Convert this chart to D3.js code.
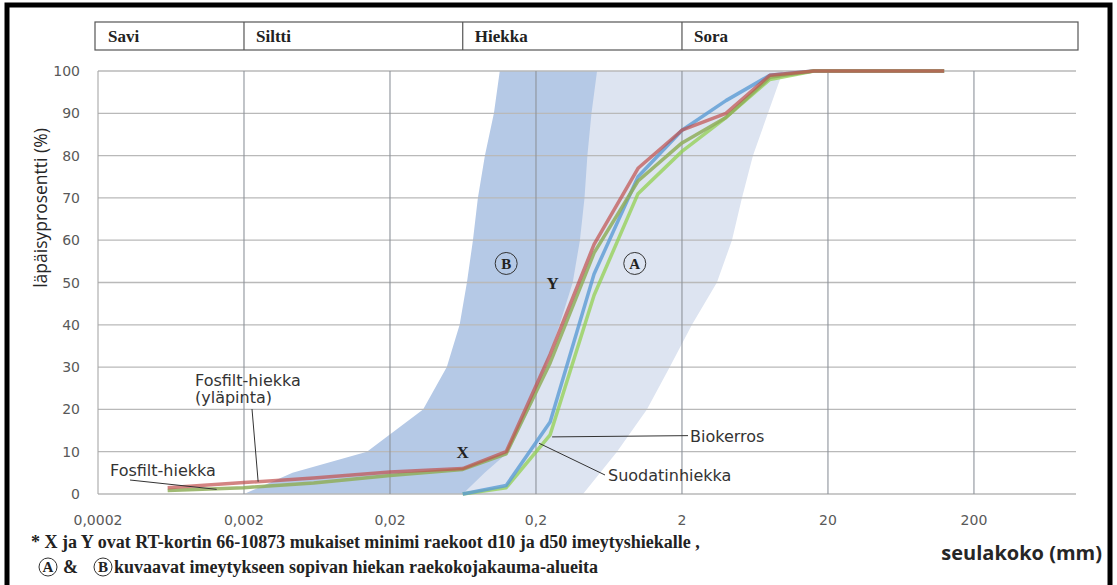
<!DOCTYPE html>
<html><head><meta charset="utf-8">
<script src="https://cdn.jsdelivr.net/npm/d3@7"></script>
<style>body{margin:0;background:#fff}svg{display:block}</style>
</head><body><svg id="c" width="1117" height="585"></svg>
<script>
// ---- data ----
const sizes = [0.0006, 0.002, 0.006, 0.02, 0.063, 0.125, 0.25, 0.5, 1, 2, 4, 8, 16, 32, 64, 125];
const fosfiltYlapinta = [1.5, 2.7, 3.8, 5.2, 6, 10, 33, 59, 77, 86, 90, 99, 100, 100, 100, 100];
const fosfiltHiekka   = [0.8, 1.5, 2.6, 4.4, 5.8, 9.5, 31, 57, 74, 83, 89, 98.5, 100, 100, 100, 100];
const suodatinhiekka  = [null, null, null, null, 0, 2, 17, 52, 75, 86, 93, 99, 100, 100, 100, 100];
const biokerros       = [null, null, null, null, 0, 1.5, 14, 47, 71, 81, 89, 98, 100, 100, 100, 100];

const yTicks = [0, 10, 20, 30, 40, 50, 60, 70, 80, 90, 100];
const xTicks = [0.0002, 0.002, 0.02, 0.2, 2, 20, 200];
const xTickLabels = ["0,0002", "0,002", "0,02", "0,2", "2", "20", "200"];

const zoneNames = ["Savi", "Siltti", "Hiekka", "Sora"];
const zoneBounds = [0.0002, 0.002, 0.063, 2, 1000];

// envelope regions (percent passing -> grain size)
const regionAPct   = [0, 10, 20, 30, 40, 50, 60, 70, 80, 90, 100];
const regionALeft  = [0.04, 0.05, 0.06, 0.075, 0.1, 0.13, 0.16, 0.19, 0.22, 0.26, 0.3];
const regionARight = [0.42, 0.718, 1.15, 1.65, 2.34, 3.47, 4.4, 5.15, 6.13, 7.76, 9.84];
const regionBPct   = [0, 5, 10, 20, 30, 40, 50, 60, 70, 80, 90, 100];
const regionBLeft  = [0.002, 0.0043, 0.0139, 0.0337, 0.049, 0.060, 0.0673, 0.074, 0.080, 0.0894, 0.103, 0.113];
const regionBRight = [0.063, 0.089, 0.13, 0.18, 0.23, 0.29, 0.357, 0.40, 0.43, 0.45, 0.48, 0.524];

// ---- drawing ----
const svg = d3.select("#c");
const x = d3.scaleLog().domain([0.0002, 1000]).range([98, 1076]);
const y = d3.scaleLinear().domain([0, 100]).range([494, 71]);

// frame
svg.append("rect").attr("x", 7).attr("y", 5).attr("width", 1103).attr("height", 700)
  .attr("fill", "none").attr("stroke", "#000").attr("stroke-width", 5);

// regions
function regionPath(pct, left, right) {
  const pts = left.map((s, i) => [s, pct[i]]).concat(right.map((s, i) => [s, pct[i]]).reverse());
  return d3.line().x(d => x(d[0])).y(d => y(d[1])).curve(d3.curveLinearClosed)(pts);
}
svg.append("path").attr("d", regionPath(regionAPct, regionALeft, regionARight)).attr("fill", "#dde4f1");
svg.append("path").attr("d", regionPath(regionBPct, regionBLeft, regionBRight)).attr("fill", "#b5c9e6");

// grid
const g = svg.append("g");
g.selectAll("line.h").data(yTicks).join("line")
  .attr("x1", x(0.0002)).attr("x2", x(1000)).attr("y1", d => y(d)).attr("y2", d => y(d))
  .attr("stroke", "#b9b9b9").attr("stroke-width", 1.3);
g.selectAll("line.v").data(xTicks).join("line")
  .attr("x1", d => x(d)).attr("x2", d => x(d)).attr("y1", y(0)).attr("y2", y(100))
  .attr("stroke", d => d === 0.0002 ? "#a8a8a8" : "#8e939b").attr("stroke-width", 1.1);

// axes labels
svg.selectAll("text.yt").data(yTicks).join("text")
  .attr("x", 80).attr("y", d => y(d) + 5).attr("text-anchor", "end")
  .attr("font-family", "DejaVu Sans").attr("font-size", 14).attr("fill", "#595959").text(d => d);
svg.selectAll("text.xt").data(xTicks).join("text")
  .attr("x", d => x(d)).attr("y", 525).attr("text-anchor", "middle")
  .attr("font-family", "DejaVu Sans").attr("font-size", 14).attr("fill", "#595959")
  .text((d, i) => xTickLabels[i]);
svg.append("text").attr("transform", "translate(47,208) rotate(-90)").attr("text-anchor", "middle")
  .attr("font-family", "Open Sans").attr("font-size", 17.5).attr("fill", "#262626")
  .text("läpäisyprosentti (%)");
svg.append("text").attr("x", 1102).attr("y", 560).attr("text-anchor", "end")
  .attr("font-family", "Open Sans").attr("font-weight", "bold").attr("font-size", 20).attr("fill", "#262626")
  .text("seulakoko (mm)");

// zone band
const band = svg.append("g");
band.append("rect").attr("x", x(zoneBounds[0]) - 3).attr("y", 22)
  .attr("width", x(zoneBounds[4]) - x(zoneBounds[0]) + 5).attr("height", 28)
  .attr("fill", "#fff").attr("stroke", "#555").attr("stroke-width", 1.2);
band.selectAll("line").data(zoneBounds.slice(1, 4)).join("line")
  .attr("x1", d => x(d)).attr("x2", d => x(d)).attr("y1", 22).attr("y2", 50)
  .attr("stroke", "#555").attr("stroke-width", 1.2);
band.selectAll("text").data(zoneNames).join("text")
  .attr("x", (d, i) => (i === 0 ? x(zoneBounds[0]) + 10 : x(zoneBounds[i]) + 12)).attr("y", 42)
  .attr("font-family", "Liberation Serif").attr("font-weight", "bold").attr("font-size", 17)
  .attr("fill", "#222").text(d => d);

// curves
const line = d3.line().defined(d => d[1] !== null).x(d => x(d[0])).y(d => y(d[1]));
const series = [
  {v: biokerros, c: "#92d050", o: 0.75},
  {v: suodatinhiekka, c: "#5b9bd5", o: 0.8},
  {v: fosfiltHiekka, c: "#8fae5a", o: 0.85},
  {v: fosfiltYlapinta, c: "#c0504d", o: 0.7}
];
svg.selectAll("path.s").data(series).join("path")
  .attr("d", s => line(sizes.map((d, i) => [d, s.v[i]])))
  .attr("fill", "none").attr("stroke", s => s.c).attr("stroke-opacity", s => s.o)
  .attr("stroke-width", 3.5).attr("stroke-linejoin", "round");

// annotations
const ann = svg.append("g").attr("font-family", "DejaVu Sans").attr("font-size", 16).attr("fill", "#333");
function leader(x1, y1, x2, y2) {
  svg.append("line").attr("x1", x1).attr("y1", y1).attr("x2", x2).attr("y2", y2)
    .attr("stroke", "#333").attr("stroke-width", 1);
}
ann.append("text").attr("x", 195).attr("y", 386).text("Fosfilt-hiekka");
ann.append("text").attr("x", 195).attr("y", 403).text("(yläpinta)");
leader(252, 409, x(0.0025), y(2.9));
ann.append("text").attr("x", 110).attr("y", 476).text("Fosfilt-hiekka");
leader(130, 480, x(0.0013), y(1.1));
ann.append("text").attr("x", 690).attr("y", 442).text("Biokerros");
leader(x(0.25) + 2, y(13.5), 688, y(13.8));
ann.append("text").attr("x", 608).attr("y", 481).text("Suodatinhiekka");
leader(x(0.21), y(12), 605, 475);

const serif = {family: "Liberation Serif"};
function circled(cx, cy, r, letter, size) {
  svg.append("circle").attr("cx", cx).attr("cy", cy).attr("r", r)
    .attr("fill", "none").attr("stroke", "#333").attr("stroke-width", 1);
  svg.append("text").attr("x", cx).attr("y", cy + size * 0.35).attr("text-anchor", "middle")
    .attr("font-family", serif.family).attr("font-weight", "bold").attr("font-size", size)
    .attr("fill", "#222").text(letter);
}
circled(x(0.125), y(54.5), 11, "B", 15);
circled(x(0.95), y(54.5), 11, "A", 15);
svg.append("text").attr("x", x(0.26)).attr("y", y(50) + 6).attr("text-anchor", "middle")
  .attr("font-family", serif.family).attr("font-weight", "bold").attr("font-size", 17).attr("fill", "#222").text("Y");
svg.append("text").attr("x", x(0.063)).attr("y", y(10) + 6).attr("text-anchor", "middle")
  .attr("font-family", serif.family).attr("font-weight", "bold").attr("font-size", 17).attr("fill", "#222").text("X");

// footnotes
svg.append("text").attr("x", 31).attr("y", 548)
  .attr("font-family", serif.family).attr("font-weight", "bold").attr("font-size", 18).attr("fill", "#222")
  .text("* X ja Y ovat RT-kortin 66-10873 mukaiset minimi raekoot d10 ja d50 imeytyshiekalle ,");
circled(48, 567, 9, "A", 15);
svg.append("text").attr("x", 63).attr("y", 573)
  .attr("font-family", serif.family).attr("font-weight", "bold").attr("font-size", 18).attr("fill", "#222").text("&");
circled(103, 567, 9, "B", 15);
svg.append("text").attr("x", 114).attr("y", 573)
  .attr("font-family", serif.family).attr("font-weight", "bold").attr("font-size", 18).attr("fill", "#222")
  .text("kuvaavat imeytykseen sopivan hiekan raekokojakauma-alueita");
</script></body></html>
